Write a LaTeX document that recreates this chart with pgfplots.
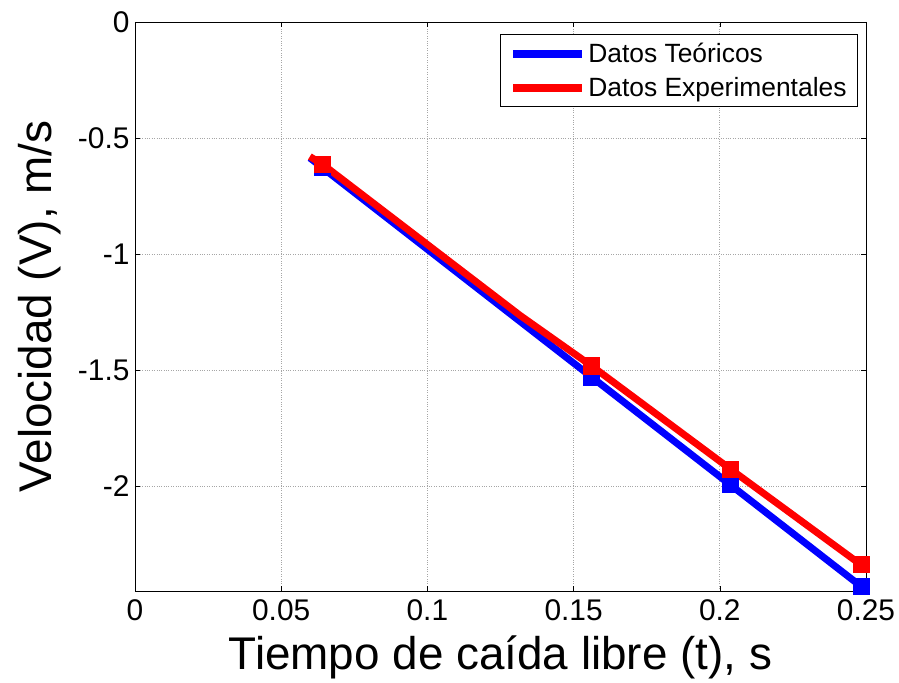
\documentclass[border=0pt]{standalone}
\usepackage{pgfplots}
\pgfplotsset{compat=1.18}
\usepackage{fontspec}
\setmainfont{Liberation Sans}
\begin{document}
\begin{tikzpicture}[x=1bp,y=1bp]
\begin{axis}[
  at={(0,0)}, anchor=south west,
  scale only axis, width=731bp, height=569bp,
  xmin=0, xmax=0.25, ymin=-2.453, ymax=0,
  xtick={0,0.05,0.1,0.15,0.2,0.25},
  ytick={-2,-1.5,-1,-0.5,0},
  xticklabels={0,0.05,0.1,0.15,0.2,0.25},
  yticklabels={-2,-1.5,-1,-0.5,0},
  tick align=inside, tick pos=both,
  major tick length=5bp,
  grid=major,
  major grid style={gray!70, dotted, line width=0.8pt},
  axis line style={black, line width=0.8pt},
  tick style={black, line width=0.6pt},
  ticklabel style={font=\fontsize{30}{32}\selectfont},
  xticklabel style={yshift=-5bp},
  yticklabel style={xshift=-2bp},
  xlabel={Tiempo de caída libre (t), s},
  ylabel={Velocidad (V), m/s},
  label style={font=\fontsize{46}{50}\selectfont},
  xlabel style={yshift=-8bp},
  ylabel style={yshift=10bp},
  legend style={at={(0.989,0.979)}, anchor=north east, font=\fontsize{26.5}{32}\selectfont,
    draw=black, line width=0.8pt, inner xsep=9bp, inner ysep=7bp, row sep=9bp, cells={anchor=west}},
  legend image code/.code={\draw[line width=8bp] (0bp,0bp) -- (69bp,0bp);},
]
\addplot[blue, line width=7bp, mark=square*, mark size=8bp, mark options={line width=0pt}, mark indices={2,4,5,6}]
coordinates {(0.0598,-0.586) (0.0642,-0.629) (0.1317,-1.291) (0.1562,-1.531) (0.2037,-1.996) (0.2483,-2.433)};
\addlegendentry{Datos Teóricos}
\addplot[red, line width=7bp, mark=square*, mark size=8bp, mark options={line width=0pt}, mark indices={2,4,5,6}]
coordinates {(0.0598,-0.580) (0.0642,-0.614) (0.1317,-1.265) (0.1562,-1.483) (0.2037,-1.928) (0.2483,-2.340)};
\addlegendentry{Datos Experimentales}
\end{axis}
\useasboundingbox (-135bp,-90bp) rectangle (764bp,591bp);
\end{tikzpicture}
\end{document}
